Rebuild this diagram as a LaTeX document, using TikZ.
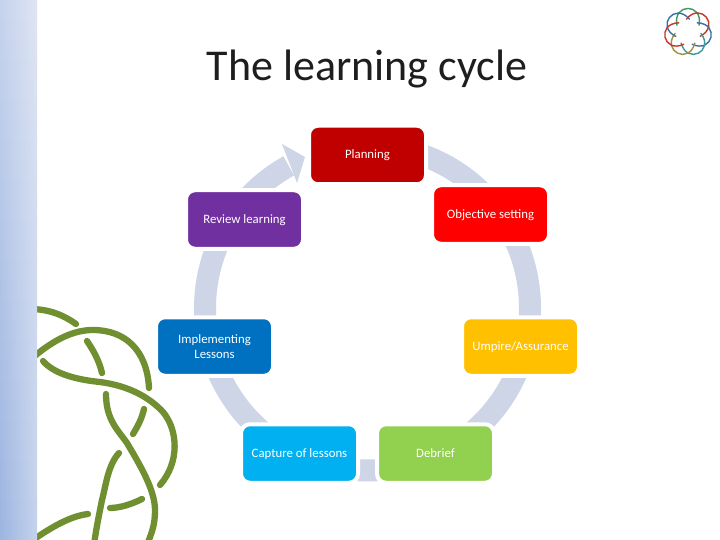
\documentclass[tikz,border=0pt]{standalone}
\usepackage{fontspec}
\setmainfont{Carlito}
\definecolor{ringc}{HTML}{CDD5E6}
\definecolor{knotc}{HTML}{6F8F30}
\definecolor{barTL}{HTML}{C5D2EC}
\definecolor{barTR}{HTML}{DEE5F3}
\definecolor{barBL}{HTML}{9DB5E1}
\definecolor{barBR}{HTML}{C5D3EC}
\definecolor{lgA}{HTML}{3E9A5F}
\definecolor{lgB}{HTML}{C0392B}
\definecolor{lgC}{HTML}{3A9A9A}
\definecolor{lgD}{HTML}{3A6EA5}
\definecolor{lgE}{HTML}{A09040}
\tikzset{
  x=1pt,y=-1pt,
  cyclebox/.style={rounded corners=9pt,minimum width=117pt,minimum height=58.5pt,inner sep=2pt,
    align=center,text=white,font=\fontsize{12.8}{14.5}\selectfont,draw=white,line width=4pt},
  oneline/.style={text height=11pt,text depth=3pt},
  strand/.style={draw=knotc,line width=6.3pt,line cap=round},
  loopc/.style={line width=1.4pt,line cap=round}
}
\begin{document}
\begin{tikzpicture}
\useasboundingbox (0,0) rectangle (720,540);
\fill[white] (0,0) rectangle (720,540);
% knot
\draw[strand] (30,309) .. controls (50,309) and (65,316) .. (76,324);
\draw[strand] (30,360) .. controls (55,338) and (75,330) .. (93,330) .. controls (125,330) and (147,350) .. (149,388);
\draw[strand] (87,341) .. controls (93,350) and (99,360) .. (102,373);
\draw[strand] (43,361) .. controls (55,375) and (80,380) .. (100,382) .. controls (130,386) and (150,398) .. (163,412) .. controls (178,430) and (180,462) .. (160,485);
\draw[strand] (106,394) .. controls (106,420) and (118,430) .. (127,443) .. controls (140,465) and (155,490) .. (155,510) .. controls (155,525) and (152,532) .. (147,545);
\draw[strand] (144,409) .. controls (142,418) and (138,426) .. (133,434);
\draw[strand] (119,453) .. controls (108,465) and (106,485) .. (102,500) .. controls (98,520) and (96,530) .. (94,545);
\draw[strand] (110,508) .. controls (120,508) and (132,504) .. (142,499);
\draw[strand] (30,542) .. controls (50,528) and (70,516) .. (88,514);
% side bar
\foreach \i in {0,...,26}{
  \pgfmathsetmacro\p{100-\i*100/26}
  \shade[left color=barTL!\p!barBL,right color=barTR!\p!barBR] (0,{\i*20}) rectangle (37,{\i*20+21});
}
% logo
\begin{scope}[shift={(688,32)}]
\foreach \a/\c in {-90/lgA,-39/lgB,13/lgD,64/lgC,116/lgE,167/lgB,218/lgD}{
  \draw[loopc,draw=\c] ({\a-58}:13) .. controls ({\a-28}:33) and ({\a+28}:33) .. ({\a+58}:13);
}
\end{scope}
% ring with arrow
\coordinate (ctr) at (367.5,308);
\fill[ringc] plot[smooth,samples=80,domain=-85:241] ({367.5+173.5*cos(\x)},{308+173.5*sin(\x)})
  -- plot[smooth,samples=80,domain=241:-85] ({367.5+151.5*cos(\x)},{308+151.5*sin(\x)}) -- cycle;
\coordinate (hA) at (282,144);
\coordinate (hB) at (305,157);
\coordinate (hC) at (297,183);
\fill[ringc] (hA) -- (hB) -- (hC) -- cycle;
% boxes
\node[cyclebox,oneline,fill={rgb,255:red,192;green,0;blue,0}] (plan) at (367.5,155) {Planning};
\node[cyclebox,oneline,fill={rgb,255:red,255;green,0;blue,0}] (obj) at (490.5,214.5) {Objective setting};
\node[cyclebox,oneline,fill={rgb,255:red,112;green,48;blue,160}] (rev) at (244.5,219.5) {Review learning};
\node[cyclebox,fill={rgb,255:red,0;green,112;blue,192}] (imp) at (214.5,346.5) {Implementing\\Lessons};
\node[cyclebox,oneline,fill={rgb,255:red,255;green,192;blue,0}] (ump) at (520.5,346.5) {Umpire/Assurance};
\node[cyclebox,oneline,fill={rgb,255:red,0;green,176;blue,240}] (cap) at (299.5,453.5) {Capture of lessons};
\node[cyclebox,oneline,fill={rgb,255:red,146;green,208;blue,80}] (deb) at (435.5,453.5) {Debrief};
% title
\node[font=\fontsize{44}{50}\selectfont,text={rgb,255:red,30;green,30;blue,30},inner sep=0pt,anchor=base] (title) at (367,81) {The learning cycle};
\end{tikzpicture}
\end{document}
